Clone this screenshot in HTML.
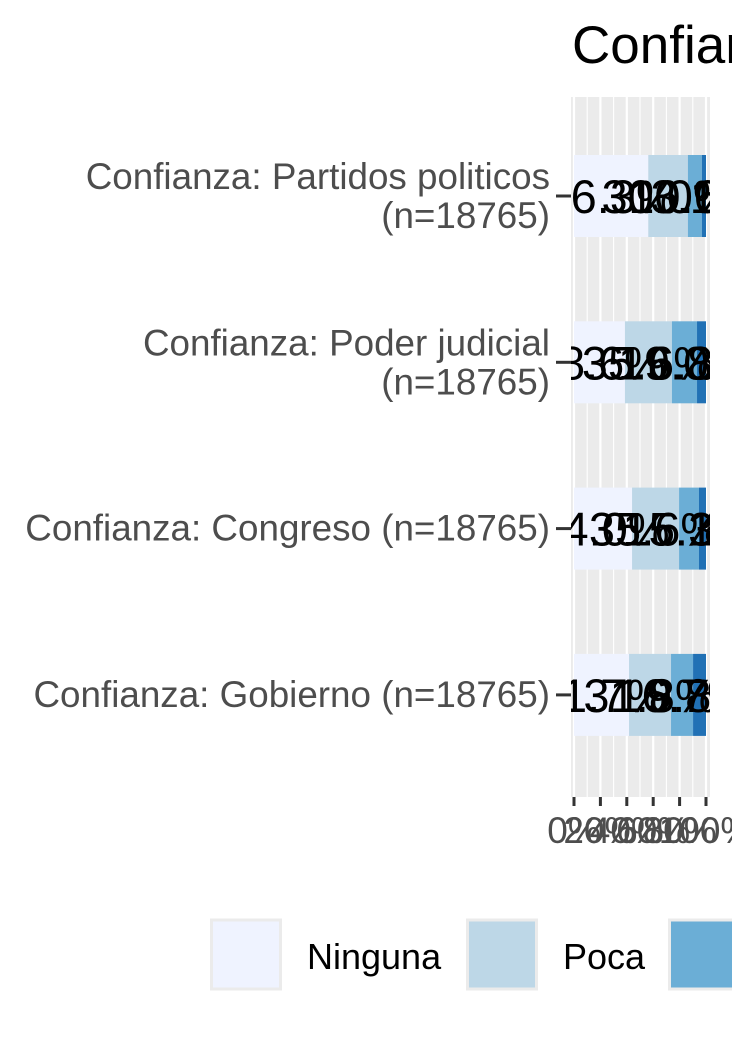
<!DOCTYPE html>
<html><head><meta charset="utf-8"><style>
body{margin:0;background:#fff;width:732px;height:1037px;overflow:hidden}
svg{display:block;font-family:"Liberation Sans",Arial,sans-serif}
</style></head><body>
<svg id="chart" width="732" height="1037" viewBox="0 0 732 1037">
<defs><clipPath id="panelclip"><rect x="571" y="97" width="139" height="700"/></clipPath></defs>
<text x="572" y="63" font-size="53" fill="#000">Confianza en instituciones</text>
<rect x="571" y="97" width="139" height="700" fill="#EBEBEB"/>
<g id="grid"></g><g id="bars"></g><g id="labels" clip-path="url(#panelclip)"></g><g id="yaxis"></g><g id="xaxis"></g>
<g id="legend"></g>
</svg>
<script>
const categories = ["Confianza: Partidos politicos|(n=18765)","Confianza: Poder judicial|(n=18765)","Confianza: Congreso (n=18765)","Confianza: Gobierno (n=18765)"];
const seriesNames = ["Ninguna","Poca","Algo","Mucha"];
const ningunaVals = [56.3, 38.6, 44.0, 41.7];
const pocaVals = [30.0, 35.6, 35.6, 31.8];
const algoVals = [10.6, 19.0, 15.1, 16.7];
const muchaVals = [3.1, 6.8, 5.3, 9.8];
const xTicks = [0,20,40,60,80,100];
const xTickLabels = ["0%","20%","40%","60%","80%","100%"];
const colors = ["#EFF3FF","#BDD7E7","#6BAED6","#2171B5"];
const NS="http://www.w3.org/2000/svg";
const X0=574,X1=706,rowY0=196,rowStep=166.3,barH=82;
const xs=v=>X0+(X1-X0)*v/100;
const ys=i=>rowY0+i*rowStep;
function mk(tag,attrs,parent){const e=document.createElementNS(NS,tag);for(const k in attrs)e.setAttribute(k,attrs[k]);parent.appendChild(e);return e;}
const grid=document.getElementById('grid');
for(let v=0;v<=100;v+=10){
  const g=mk('line',{x1:xs(v),x2:xs(v),y1:97,y2:797,stroke:'#fff','stroke-width':v%20===0?2.2:1.1},grid);
  
  
}
const all=[ningunaVals,pocaVals,algoVals,muchaVals];
const bars=document.getElementById('bars'),labels=document.getElementById('labels');
categories.forEach((c,i)=>{
  let acc=0;
  all.forEach((arr,s)=>{
    const v=arr[i];
    const r=mk('rect',{x:xs(acc),y:ys(i)-barH/2,width:xs(acc+v)-xs(acc),height:barH,fill:colors[s]},bars);
    
    
    const t=mk('text',{x:xs(acc+v/2),y:ys(i)+17,'font-size':47,'text-anchor':'middle',fill:'#000'},labels);
    t.textContent=v.toFixed(1)+'%';
    
    
    acc+=v;
  });
});
const ya=document.getElementById('yaxis');
categories.forEach((c,i)=>{
  const tk=mk('line',{x1:556,x2:571,y1:ys(i),y2:ys(i),stroke:'#333','stroke-width':3},ya);
  
  
  const parts=c.split('|');
  parts.forEach((p,j)=>{
    const t=mk('text',{x:550,y:ys(i)+12+(parts.length===2?(j===0?-19:20):0),'font-size':36.8,'text-anchor':'end',fill:'#4D4D4D'},ya);
    t.textContent=p;
    
    
  });
});
const xa=document.getElementById('xaxis');
xTicks.forEach((v,i)=>{
  const tk=mk('line',{x1:xs(v),x2:xs(v),y1:797,y2:806,stroke:'#333','stroke-width':3},xa);
  
  
  const t=mk('text',{x:xs(v),y:843,'font-size':37,'text-anchor':'middle',fill:'#4D4D4D'},xa);
  t.textContent=xTickLabels[i];
  
  
});
const lg=document.getElementById('legend');
const keyX=[210,466,668,900],txtX=[307,563,765,1000];
seriesNames.forEach((n,s)=>{
  const r=mk('rect',{x:keyX[s]+1.5,y:920,width:69,height:69,fill:colors[s],stroke:'#EBEBEB','stroke-width':3},lg);
  
  
  const t=mk('text',{x:txtX[s],y:969,'font-size':36,fill:'#000'},lg);
  t.textContent=n;
  
  
});
</script>
</body></html>
